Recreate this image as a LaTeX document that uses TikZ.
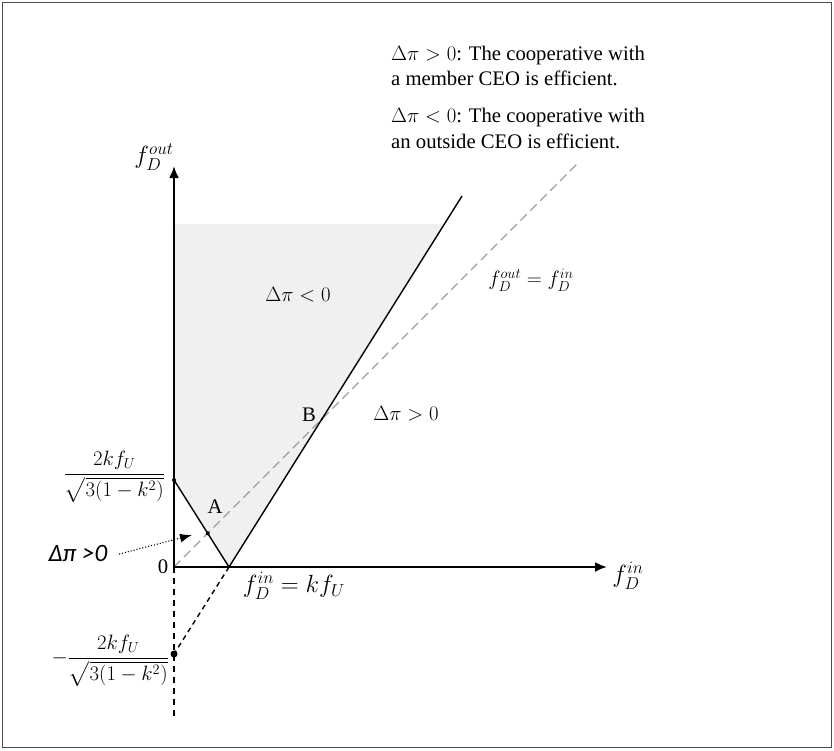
\documentclass[tikz,border=0pt]{standalone}
\usepackage{amsmath}
\usepackage{fontspec}
\setmainfont{Liberation Serif}
\newfontfamily\calib{Carlito}
\usetikzlibrary{arrows.meta}
\begin{document}
\begin{tikzpicture}[x=1pt,y=-1pt,
  every node/.style={inner sep=0pt},
  txt/.style={font=\fontsize{20.7}{25}\selectfont},
  mlbl/.style={font=\fontsize{20.5}{25}\selectfont},
  klbl/.style={font=\fontsize{23}{27}\selectfont},
  slbl/.style={font=\fontsize{21.5}{26}\selectfont},
  flbl/.style={font=\fontsize{20}{24}\selectfont},
  axis/.style={line width=2.2pt,-{Latex[length=12pt,width=10pt]}},
  bound/.style={line width=1.4pt},
  diag/.style={line width=1.1pt,draw=black!38,dash pattern=on 9pt off 5pt},
  ext/.style={line width=1.4pt,dash pattern=on 5pt off 4pt},
  vdash/.style={line width=1.8pt,dash pattern=on 6pt off 5pt},
  dotarrow/.style={line width=1.5pt,line cap=round,dash pattern=on 0pt off 3pt,-{Latex[length=12pt,width=9pt]}},
]
\useasboundingbox (0,0) rectangle (834,750);
\draw[line width=1pt,draw=black!70] (2.5,2.5) rectangle (831.5,747.5);

\coordinate (O) at (174,567);
\coordinate (K) at (229,567);
\coordinate (U) at (174,480);
\coordinate (L) at (174,654);
\coordinate (T) at (462,196);
\coordinate (Yt) at (174,166);
\coordinate (Xt) at (607,567);
\coordinate (D) at (577,164);
\coordinate (Vb) at (174,720);
\coordinate (Sh) at (174,224);
\coordinate (Sr) at (600,224);
\coordinate (S) at (intersection of Sh--Sr and K--T);
\coordinate (A) at (intersection of U--K and O--D);
\coordinate (B) at (intersection of K--T and O--D);

\fill[black!6] (U) -- (Sh) -- (S) -- (K) -- cycle;

\draw[diag] (O) -- (D);
\draw[vdash] (O) -- (Vb);
\draw[ext] (K) -- (L);
\draw[bound] (U) -- (K);
\draw[bound] (K) -- (T);
\draw[axis] (O) -- (Xt);
\draw[axis] (O) -- (Yt);

\fill (U) circle (2pt);
\fill (A) circle (2pt);
\fill (B) circle (1.3pt);
\fill (L) circle (3.5pt);

\node[font=\fontsize{23}{27}\selectfont] (ly) at (154,157) {$f_D^{out}$};
\node[font=\fontsize{26}{30}\selectfont] (lx) at (628,576) {$f_D^{in}$};
\node[txt] (l0) at (163,567) {0};
\node[klbl] (lk) at (294,586) {$f_D^{in}=kf_U$};
\node[txt] (lA) at (215,507) {A};
\node[txt] (lB) at (309,415) {B};
\node[mlbl] (ln) at (298,295) {$\Delta\pi<0$};
\node[mlbl] (lp) at (406,414) {$\Delta\pi>0$};
\node[slbl] (ld) at (531,280) {$f_D^{out}=f_D^{in}$};

\node[flbl,anchor=east] (fu) at (165,477) {$\dfrac{2kf_U}{\sqrt{3(1-k^2)}}$};
\node[flbl,anchor=east] (fl) at (169,661) {$-\dfrac{2kf_U}{\sqrt{3(1-k^2)}}$};

\node[font=\calib\itshape\fontsize{25}{30}\selectfont] (dp) at (78,553) {Δπ >0};
\coordinate (dB) at (192,535);
\draw[dotarrow] ([xshift=12pt,yshift=-1pt]dp.east) -- (dB);

\node[txt,anchor=base west] (t1) at (391,60) {$\Delta\pi>0$: The cooperative with};
\node[txt,anchor=base west] (t2) at (391,85) {a member CEO is efficient.};
\node[txt,anchor=base west] (t3) at (391,122) {$\Delta\pi<0$: The cooperative with};
\node[txt,anchor=base west] (t4) at (391,148) {an outside CEO is efficient.};
\end{tikzpicture}
\end{document}
